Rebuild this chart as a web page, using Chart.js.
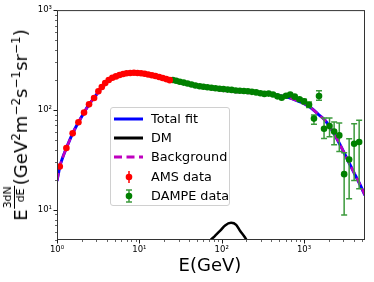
<!DOCTYPE html>
<html>
<head>
<meta charset="utf-8">
<script src="https://cdn.jsdelivr.net/npm/chart.js@4.4.0/dist/chart.umd.min.js"></script>
<style>
  html, body { margin: 0; padding: 0; background: #fff; }
  #wrap { position: relative; width: 374px; height: 282px; overflow: hidden; font-family: 'DejaVu Sans', sans-serif; color: #000; }
  #c { position: absolute; left: 0; top: 0; }
  #ylab { position: absolute; left: 16px; top: 125px; transform: translate(-50%, -50%) rotate(-90deg); white-space: nowrap; font-size: 18px; line-height: 18px; }
  #ylab sup { font-size: 12px; vertical-align: 7px; line-height: 0; }
  #ylab .frac { display: inline-block; vertical-align: 3px; font-size: 11px; line-height: 11px; text-align: left; margin: 0 1px; }
  #ylab .frac span { display: block; }
  #ylab .frac .num { border-bottom: 1px solid #000; padding-bottom: 1px; }
  #ylab .frac .den { padding-left: 6px; }
  #xlab { position: absolute; left: 210px; top: 256px; transform: translateX(-50%); font-size: 18px; line-height: 18px; white-space: nowrap; }
  #legend { position: absolute; left: 110px; top: 107px; width: 120px; height: 99px; border: 1px solid #d0d0d0; border-radius: 3px; background: rgba(255,255,255,0.85); box-sizing: border-box; }
  .row { position: absolute; left: 0; height: 16px; width: 120px; }
  .row svg { position: absolute; left: 2px; top: 0; }
  .row span { position: absolute; left: 40px; top: 0; font-size: 12.8px; line-height: 16px; white-space: nowrap; }
</style>
</head>
<body>
<div id="wrap">
  <canvas id="c" width="374" height="282"></canvas>
  <div id="ylab">E<span class="frac"><span class="num">3dN</span><span class="den">dE</span></span>(GeV<sup>2</sup>m<sup>−2</sup>s<sup>−1</sup>sr<sup>−1</sup>)</div>
  <div id="xlab">E(GeV)</div>
  <div id="legend">
    <div class="row" style="top:3px"><svg width="32" height="16"><line x1="1" y1="8" x2="30" y2="8" stroke="#0000ff" stroke-width="3"/></svg><span>Total fit</span></div>
    <div class="row" style="top:22px"><svg width="32" height="16"><line x1="1" y1="8" x2="30" y2="8" stroke="#000" stroke-width="3"/></svg><span>DM</span></div>
    <div class="row" style="top:41px"><svg width="32" height="16"><line x1="1" y1="8" x2="30" y2="8" stroke="#bf00bf" stroke-width="3" stroke-dasharray="8 4.5"/></svg><span>Background</span></div>
    <div class="row" style="top:61px"><svg width="32" height="16"><line x1="16" y1="2" x2="16" y2="14" stroke="#ff0000" stroke-width="1.5"/><circle cx="16" cy="8" r="3.3" fill="#ff0000"/></svg><span>AMS data</span></div>
    <div class="row" style="top:80px"><svg width="32" height="16"><line x1="16" y1="2" x2="16" y2="14" stroke="#3c9a3c" stroke-width="1.5"/><line x1="13" y1="2" x2="19" y2="2" stroke="#3c9a3c" stroke-width="1.5"/><line x1="13" y1="14" x2="19" y2="14" stroke="#3c9a3c" stroke-width="1.5"/><circle cx="16" cy="8" r="3.3" fill="#008000"/></svg><span>DAMPE data</span></div>
  </div>
</div>
<script>
// AMS points (GeV, E^3 dN/dE)
var amsE = [1.08, 1.30, 1.55, 1.82, 2.13, 2.45, 2.82, 3.18, 3.50, 3.85, 4.25, 4.70, 5.20, 5.75, 6.35, 7.00, 7.75, 8.60, 9.50, 10.5, 11.6, 12.8, 14.2, 15.7, 17.4, 19.2, 21.2, 23.4];
var amsV = [27.2, 41.6, 58.4, 75.4, 94.2, 114, 132, 154, 170, 186, 200, 210, 217, 224, 229, 233, 235, 236, 235, 233, 231, 227, 223, 219, 214, 209, 204, 199];

// DAMPE points, error bars only where they show
var dampeE = [25.5, 28, 31, 34.5, 38.5, 43, 48, 54, 60, 67, 75, 84, 94, 105, 118, 132, 148, 166, 186, 208, 233, 262, 295, 330, 372, 420, 475, 535, 605, 680, 770, 880, 1000, 1150, 1320, 1520, 1750, 2040, 2320, 2680, 3070, 3530, 4060, 4670];
var dampeV = [200, 196, 192, 188, 184, 180, 176, 173, 171, 169, 167, 165, 163, 162, 160, 159, 157, 156, 155, 154, 152, 150, 147, 145, 146, 143, 137, 133, 139, 143, 136, 128, 122, 113, 82, 138, 65, 69, 61, 55.7, 22.8, 32, 46, 47.8];
var dampeLo = [null, null, null, null, null, null, null, null, null, null, null, null, null, null, null, null, null, null, null, null, null, null, null, null, null, null, null, null, null, null, 132, 123, 116, 106, 72, 125, 52, 54, 45, 38.5, 8.9, 12.9, 19.7, 16.3];
var dampeHi = [null, null, null, null, null, null, null, null, null, null, null, null, null, null, null, null, null, null, null, null, null, null, null, null, null, null, null, null, null, null, 140, 133, 128, 120, 89, 156, 83, 83, 76, 74, 37.4, 51.6, 73, 79];

// fit curves
var fitE = [1.0, 1.04, 1.08, 1.15, 1.3, 1.55, 1.82, 2.13, 2.45, 2.82, 3.18, 3.85, 4.7, 5.75, 7, 8.6, 10.5, 12.8, 15.7, 19.2, 23.4, 29, 38, 50, 68, 90, 120, 160, 210, 280, 370, 500, 650, 800, 1000, 1200, 1500, 1800, 2200, 2700, 3300, 4000, 4700, 5500];
var fitV = [19.5, 23, 27, 32, 41.6, 58.4, 75.4, 94.2, 114, 132, 152, 186, 210, 225, 233, 236, 234, 228, 219, 209, 199, 191, 181, 172, 166, 162, 159, 156, 153, 150, 146, 140, 133, 125, 116, 106, 90, 79, 62, 46, 33, 24, 18.5, 14];
var bkgV = [19.5, 23, 27, 32, 41.6, 58.4, 75.4, 94.2, 114, 132, 152, 186, 210, 225, 233, 236, 234, 228, 219, 209, 199, 191, 181, 171, 164, 158, 154, 150.5, 148, 146.5, 144.5, 140, 133, 125, 116, 106, 90, 79, 62, 46, 33, 24, 18.5, 14];
var dmE = [60, 72, 83, 96, 110, 130, 150, 167, 192, 202, 230];
var dmV = [3.8, 4.9, 5.5, 6.2, 7.0, 7.42, 7.1, 6.2, 5.3, 4.9, 3.2];

// tick labels for decades
var xTickVals = [1, 10, 100, 1000];
var xTickLabels = ['10⁰', '10¹', '10²', '10³'];
var yTickVals = [10, 100, 1000];
var yTickLabels = ['10¹', '10²', '10³'];

function pairs(xs, ys) {
  var out = [];
  for (var i = 0; i < xs.length; i++) out.push({x: xs[i], y: ys[i]});
  return out;
}

function decadeLabel(vals, labels) {
  return function(value) {
    var i = vals.indexOf(value);
    return i == -1 ? '' : labels[i];
  };
}

// frame + matplotlib-like ticks (major/minor, outward)
var axesPlugin = {
  id: 'axesFrame',
  afterDraw: function(chart) {
    var ctx = chart.ctx, a = chart.chartArea;
    ctx.save();
    ctx.strokeStyle = '#000';
    ['x', 'y'].forEach(function(id) {
      var scale = chart.scales[id];
      scale.ticks.forEach(function(t) {
        var v = t.value;
        var m = v / Math.pow(10, Math.floor(Math.log10(v) + 1e-9));
        if (Math.abs(m - Math.round(m)) > 1e-6) return;
        var major = Math.round(m) == 1;
        var len = major ? 3.5 : 2;
        ctx.lineWidth = major ? 0.9 : 0.6;
        var p = Math.round(scale.getPixelForValue(v)) + 0.5;
        ctx.beginPath();
        if (id == 'x') { ctx.moveTo(p, a.bottom); ctx.lineTo(p, a.bottom + len); }
        else { ctx.moveTo(a.left, p); ctx.lineTo(a.left - len, p); }
        ctx.stroke();
      });
    });
    ctx.strokeStyle = '#333';
    ctx.lineWidth = 1;
    ctx.strokeRect(a.left + 0.5, a.top + 0.5, a.right - a.left - 1, a.bottom - a.top - 1);
    ctx.restore();
  }
};

// error bars under the DAMPE markers
var errorPlugin = {
  id: 'errorBars',
  beforeDatasetDraw: function(chart, args) {
    if (chart.data.datasets[args.index].label !== 'DAMPE data') return;
    var ctx = chart.ctx, xs = chart.scales.x, ys = chart.scales.y;
    ctx.save();
    ctx.beginPath();
    ctx.rect(chart.chartArea.left, chart.chartArea.top, chart.chartArea.right - chart.chartArea.left, chart.chartArea.bottom - chart.chartArea.top);
    ctx.clip();
    ctx.strokeStyle = '#3c9a3c';
    ctx.lineWidth = 1.5;
    for (var i = 0; i < dampeE.length; i++) {
      if (dampeLo[i] == null) continue;
      var px = xs.getPixelForValue(dampeE[i]);
      var y0 = ys.getPixelForValue(dampeLo[i]);
      var y1 = ys.getPixelForValue(dampeHi[i]);
      ctx.beginPath();
      ctx.moveTo(px, y0); ctx.lineTo(px, y1);
      ctx.moveTo(px - 3, y0); ctx.lineTo(px + 3, y0);
      ctx.moveTo(px - 3, y1); ctx.lineTo(px + 3, y1);
      ctx.stroke();
    }
    ctx.restore();
  }
};

var chart = new Chart(document.getElementById('c'), {
  type: 'scatter',
  data: {
    datasets: [
      { label: 'AMS data', data: pairs(amsE, amsV), backgroundColor: '#ff0000', pointRadius: 3.3, borderWidth: 0, order: 0 },
      { label: 'DAMPE data', data: pairs(dampeE, dampeV), backgroundColor: '#008000', pointRadius: 3.3, borderWidth: 0, order: 0 },
      { label: 'Background', data: pairs(fitE, bkgV), showLine: true, borderColor: '#bf00bf', borderWidth: 2.5, borderDash: [8, 4], pointRadius: 0, cubicInterpolationMode: 'monotone', order: 1 },
      { label: 'DM', data: pairs(dmE, dmV), showLine: true, borderColor: '#000', borderWidth: 2.5, pointRadius: 0, cubicInterpolationMode: 'monotone', order: 2 },
      { label: 'Total fit', data: pairs(fitE, fitV), showLine: true, borderColor: '#0000ff', borderWidth: 3, pointRadius: 0, cubicInterpolationMode: 'monotone', order: 3 }
    ]
  },
  options: {
    responsive: false,
    animation: false,
    devicePixelRatio: 1,
    layout: { padding: { left: 0, top: 10, right: 9, bottom: 0 } },
    plugins: { legend: { display: false }, tooltip: { enabled: false } },
    scales: {
      x: {
        type: 'logarithmic', min: 1, max: 5500,
        grid: { display: false, drawTicks: false },
        border: { display: false },
        ticks: { autoSkip: false, maxRotation: 0, padding: 5, color: '#000', font: { family: 'DejaVu Sans', size: 8.5 }, callback: decadeLabel(xTickVals, xTickLabels) },
        afterFit: function(s) { s.height = 42; }
      },
      y: {
        type: 'logarithmic', min: 5, max: 1000,
        grid: { display: false, drawTicks: false },
        border: { display: false },
        ticks: { autoSkip: false, padding: 5, color: '#000', font: { family: 'DejaVu Sans', size: 8.5 }, callback: decadeLabel(yTickVals, yTickLabels) },
        afterFit: function(s) { s.width = 57; }
      }
    }
  },
  plugins: [errorPlugin, axesPlugin]
});
</script>
</body>
</html>
